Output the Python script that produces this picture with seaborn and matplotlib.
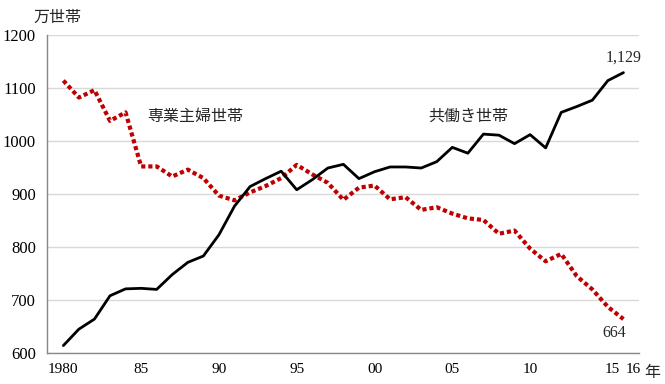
import matplotlib
matplotlib.use("Agg")
import matplotlib.pyplot as plt
import matplotlib.transforms as mtransforms
import seaborn as sns
import pandas as pd

# Data: households (10 thousand), 1980-2016
years = list(range(1980, 2017))
dual_income = [614, 645, 664, 708, 721, 722, 720, 748, 771, 783,
               823, 877, 914, 929, 943, 908, 927, 949, 956, 929,
               942, 951, 951, 949, 961, 988, 977, 1013, 1011, 995,
               1012, 987, 1054, 1065, 1077, 1114, 1129]
housewife = [1114, 1082, 1096, 1038, 1054, 952, 952, 933, 946, 930,
             897, 888, 903, 915, 930, 955, 937, 921, 889, 912,
             916, 890, 894, 870, 875, 863, 854, 851, 825, 831,
             797, 773, 787, 745, 720, 687, 664]
xtick_labels = {1980: "1980", 1985: "85", 1990: "90", 1995: "95", 2000: "00",
                2005: "05", 2010: "10", 2015: "15", 2016: "16"}

df = pd.DataFrame({"year": years, "dual": dual_income, "single": housewife})

sns.set_style("white")
plt.rcParams["font.family"] = ["Liberation Serif", "Noto Sans CJK JP"]
JP = ["Noto Sans CJK JP", "DejaVu Sans"]

fig = plt.figure(figsize=(6.65, 3.84), dpi=100)
ax = fig.add_axes([47 / 665, 1 - 353 / 384, (639 - 47) / 665, (353 - 35) / 384])

sns.lineplot(data=df, x="year", y="single", ax=ax, color="#C00000",
             linewidth=3.0, dashes=False)
ax.lines[-1].set_dashes((1, 0.7))
sns.lineplot(data=df, x="year", y="dual", ax=ax, color="black", linewidth=2.0)

ax.set_xlim(1978.95, 2017)
ax.set_ylim(600, 1200)
ax.set_yticks(range(600, 1201, 100))
tick_years = list(range(1980, 2018))
ax.set_xticks(tick_years)
ax.set_xticklabels([xtick_labels.get(y, "") for y in tick_years])
ax.set_xlabel("")
ax.set_ylabel("")

ax.grid(axis="y", color="#D9D9D9", linewidth=1)
ax.set_axisbelow(True)
for s in ["top", "right"]:
    ax.spines[s].set_visible(False)
for s in ["left", "bottom"]:
    ax.spines[s].set_color("#888888")
    ax.spines[s].set_linewidth(1)

ax.tick_params(axis="x", direction="in", length=3, color="#888888",
               labelsize=11, pad=7, labelcolor="black")
ax.tick_params(axis="y", direction="out", length=2, color="#888888",
               labelsize=12, pad=6, labelcolor="black")

# nudge the crowded "15" / "16" labels apart like the original
shifts = {2015: 4, 2016: 10}
for lab, yr in zip(ax.get_xticklabels(), tick_years):
    if yr in shifts:
        lab.set_transform(lab.get_transform() +
                          mtransforms.ScaledTranslation(shifts[yr] / 100, 0, fig.dpi_scale_trans))

# labels
ax.text(1988.5, 1047, "専業主婦世帯", fontsize=11.5, family=JP,
        ha="center", va="center")
ax.text(2006.0, 1047, "共働き世帯", fontsize=11.5, family=JP,
        ha="center", va="center")
ax.text(2016, 1157, "1,129", fontsize=11.5, ha="center", va="center")
ax.text(2015.4, 637, "664", fontsize=11.5, ha="center", va="center")

fig.text(57 / 665, 1 - 17 / 384, "万世帯", fontsize=11.5, family=JP,
         ha="center", va="center")
fig.text(652 / 665, 1 - 372 / 384, "年", fontsize=11.5, family=JP,
         ha="center", va="center")

fig.savefig("out.png", dpi=100)
